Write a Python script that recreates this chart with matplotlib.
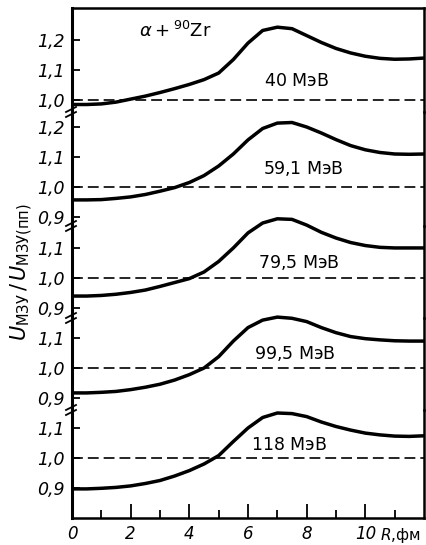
import numpy as np
import matplotlib
matplotlib.use('Agg')
import matplotlib.pyplot as plt
from matplotlib.ticker import FixedLocator, FuncFormatter
from matplotlib.lines import Line2D

# R grid (fm) and the ratio U_M3Y / U_M3Y(pp) for each energy
R = np.arange(0, 12.5, 0.5)
u_40 = [0.985, 0.985, 0.987, 0.993, 1.003, 1.013, 1.025, 1.038, 1.052, 1.068, 1.09,
        1.135, 1.19, 1.232, 1.243, 1.238, 1.215, 1.192, 1.172, 1.157, 1.146, 1.139,
        1.136, 1.137, 1.14]
u_59 = [0.957, 0.957, 0.958, 0.962, 0.967, 0.975, 0.986, 0.998, 1.015, 1.038, 1.07,
        1.11, 1.157, 1.195, 1.213, 1.215, 1.2, 1.18, 1.158, 1.138, 1.124, 1.115,
        1.11, 1.109, 1.11]
u_79 = [0.94, 0.94, 0.942, 0.946, 0.952, 0.96, 0.972, 0.985, 0.998, 1.02, 1.055,
        1.1, 1.15, 1.183, 1.197, 1.195, 1.176, 1.152, 1.133, 1.118, 1.108, 1.102,
        1.1, 1.1, 1.1]
u_99 = [0.917, 0.917, 0.919, 0.922, 0.928, 0.936, 0.946, 0.96, 0.978, 1.0, 1.038,
        1.09, 1.135, 1.16, 1.17, 1.166, 1.155, 1.135, 1.118, 1.105, 1.098, 1.094,
        1.091, 1.09, 1.09]
u_118 = [0.897, 0.897, 0.899, 0.902, 0.907, 0.915, 0.925, 0.94, 0.958, 0.98, 1.008,
         1.055, 1.1, 1.135, 1.15, 1.148, 1.138, 1.12, 1.105, 1.093, 1.083, 1.077,
         1.073, 1.072, 1.074]

curves = [u_40, u_59, u_79, u_99, u_118]
energies = ['40', '59,1', '79,5', '99,5', '118']
yticks = [[1.0, 1.1, 1.2], [0.9, 1.0, 1.1, 1.2], [0.9, 1.0, 1.1],
          [0.9, 1.0, 1.1], [0.9, 1.0, 1.1]]
xticks_major = [0, 2, 4, 6, 8, 10]
xticks_minor = [1, 3, 5, 7, 9, 11]

# layout (pixels of a 426x545 picture)
W, H = 426, 545
left_px, right_px = 72, 424
tops = [8, 112, 226, 318, 410]
bots = [112, 226, 318, 410, 518]
ylims = [(0.96, 1.307), (0.87, 1.25), (0.867, 1.173), (0.86, 1.167), (0.8, 1.16)]
label_pos = [(6.55, 1.063), (6.52, 1.063), (6.35, 1.05), (6.2, 1.047), (6.1, 1.043)]

fmt = FuncFormatter(lambda v, p: f'{v:.1f}'.replace('.', ','))

fig = plt.figure(figsize=(W / 100, H / 100), dpi=100)
axes = []
for i in range(5):
    rect = [left_px / W, 1 - bots[i] / H, (right_px - left_px) / W, (bots[i] - tops[i]) / H]
    ax = fig.add_axes(rect)
    ax.plot(R, curves[i], color='k', lw=2.5, solid_capstyle='butt',
            solid_joinstyle='round', clip_on=False, zorder=3)
    ax.axhline(1.0, color='k', lw=1.2, dashes=(6.5, 3))
    ax.set_xlim(0, 12)
    ax.set_ylim(*ylims[i])
    ax.yaxis.set_major_locator(FixedLocator(yticks[i]))
    ax.yaxis.set_major_formatter(fmt)
    ax.tick_params(axis='y', direction='in', length=6, width=1.3, pad=5, labelsize=12.5)
    for lab in ax.get_yticklabels():
        lab.set_fontstyle('italic')
    for s in ax.spines.values():
        s.set_linewidth(1.8)
    ax.spines['left'].set_linewidth(2.2)
    if i != 0:
        ax.spines['top'].set_visible(False)
    if i != 4:
        ax.spines['bottom'].set_visible(False)
        ax.set_xticks([])
    else:
        ax.xaxis.set_major_locator(FixedLocator(xticks_major))
        ax.xaxis.set_minor_locator(FixedLocator(xticks_minor))
        ax.tick_params(axis='x', which='major', direction='in', length=10, width=1.3,
                       pad=5, labelsize=12)
        ax.tick_params(axis='x', which='minor', direction='in', length=6, width=1.3)
        for lab in ax.get_xticklabels():
            lab.set_fontstyle('italic')
        ax.text(0.99, -0.075, r'$\it{R}$,фм', transform=ax.transAxes,
                ha='right', va='top', fontsize=11)
    ax.patch.set_alpha(0)
    lx, ly = label_pos[i]
    ax.text(lx, ly, r'$\it{' + energies[i].replace(',', '{,}') + r'}$ МэВ',
            fontsize=12.5, ha='left', va='center')
    axes.append(ax)

axes[0].text(2.3, 1.232, r'$\alpha+{}^{90}\mathrm{Zr}$', fontsize=13, ha='left', va='center')

# axis break marks on the left spine
for yb in bots[:4]:
    for dy in (-2.5, 2.5):
        y0 = 1 - (yb + dy + 2.5) / H
        y1 = 1 - (yb + dy - 2.5) / H
        fig.add_artist(Line2D([(left_px - 6) / W, (left_px + 4) / W], [y0, y1],
                              color='k', lw=1.3, transform=fig.transFigure))

fig.text(22 / W, 1 - 272 / H, r'$U_{\mathrm{МЗУ}}\,/\,U_{\mathrm{МЗУ}(\mathrm{пп})}$',
         rotation=90, ha='center', va='center', fontsize=15)

fig.savefig('out.png', dpi=100)
